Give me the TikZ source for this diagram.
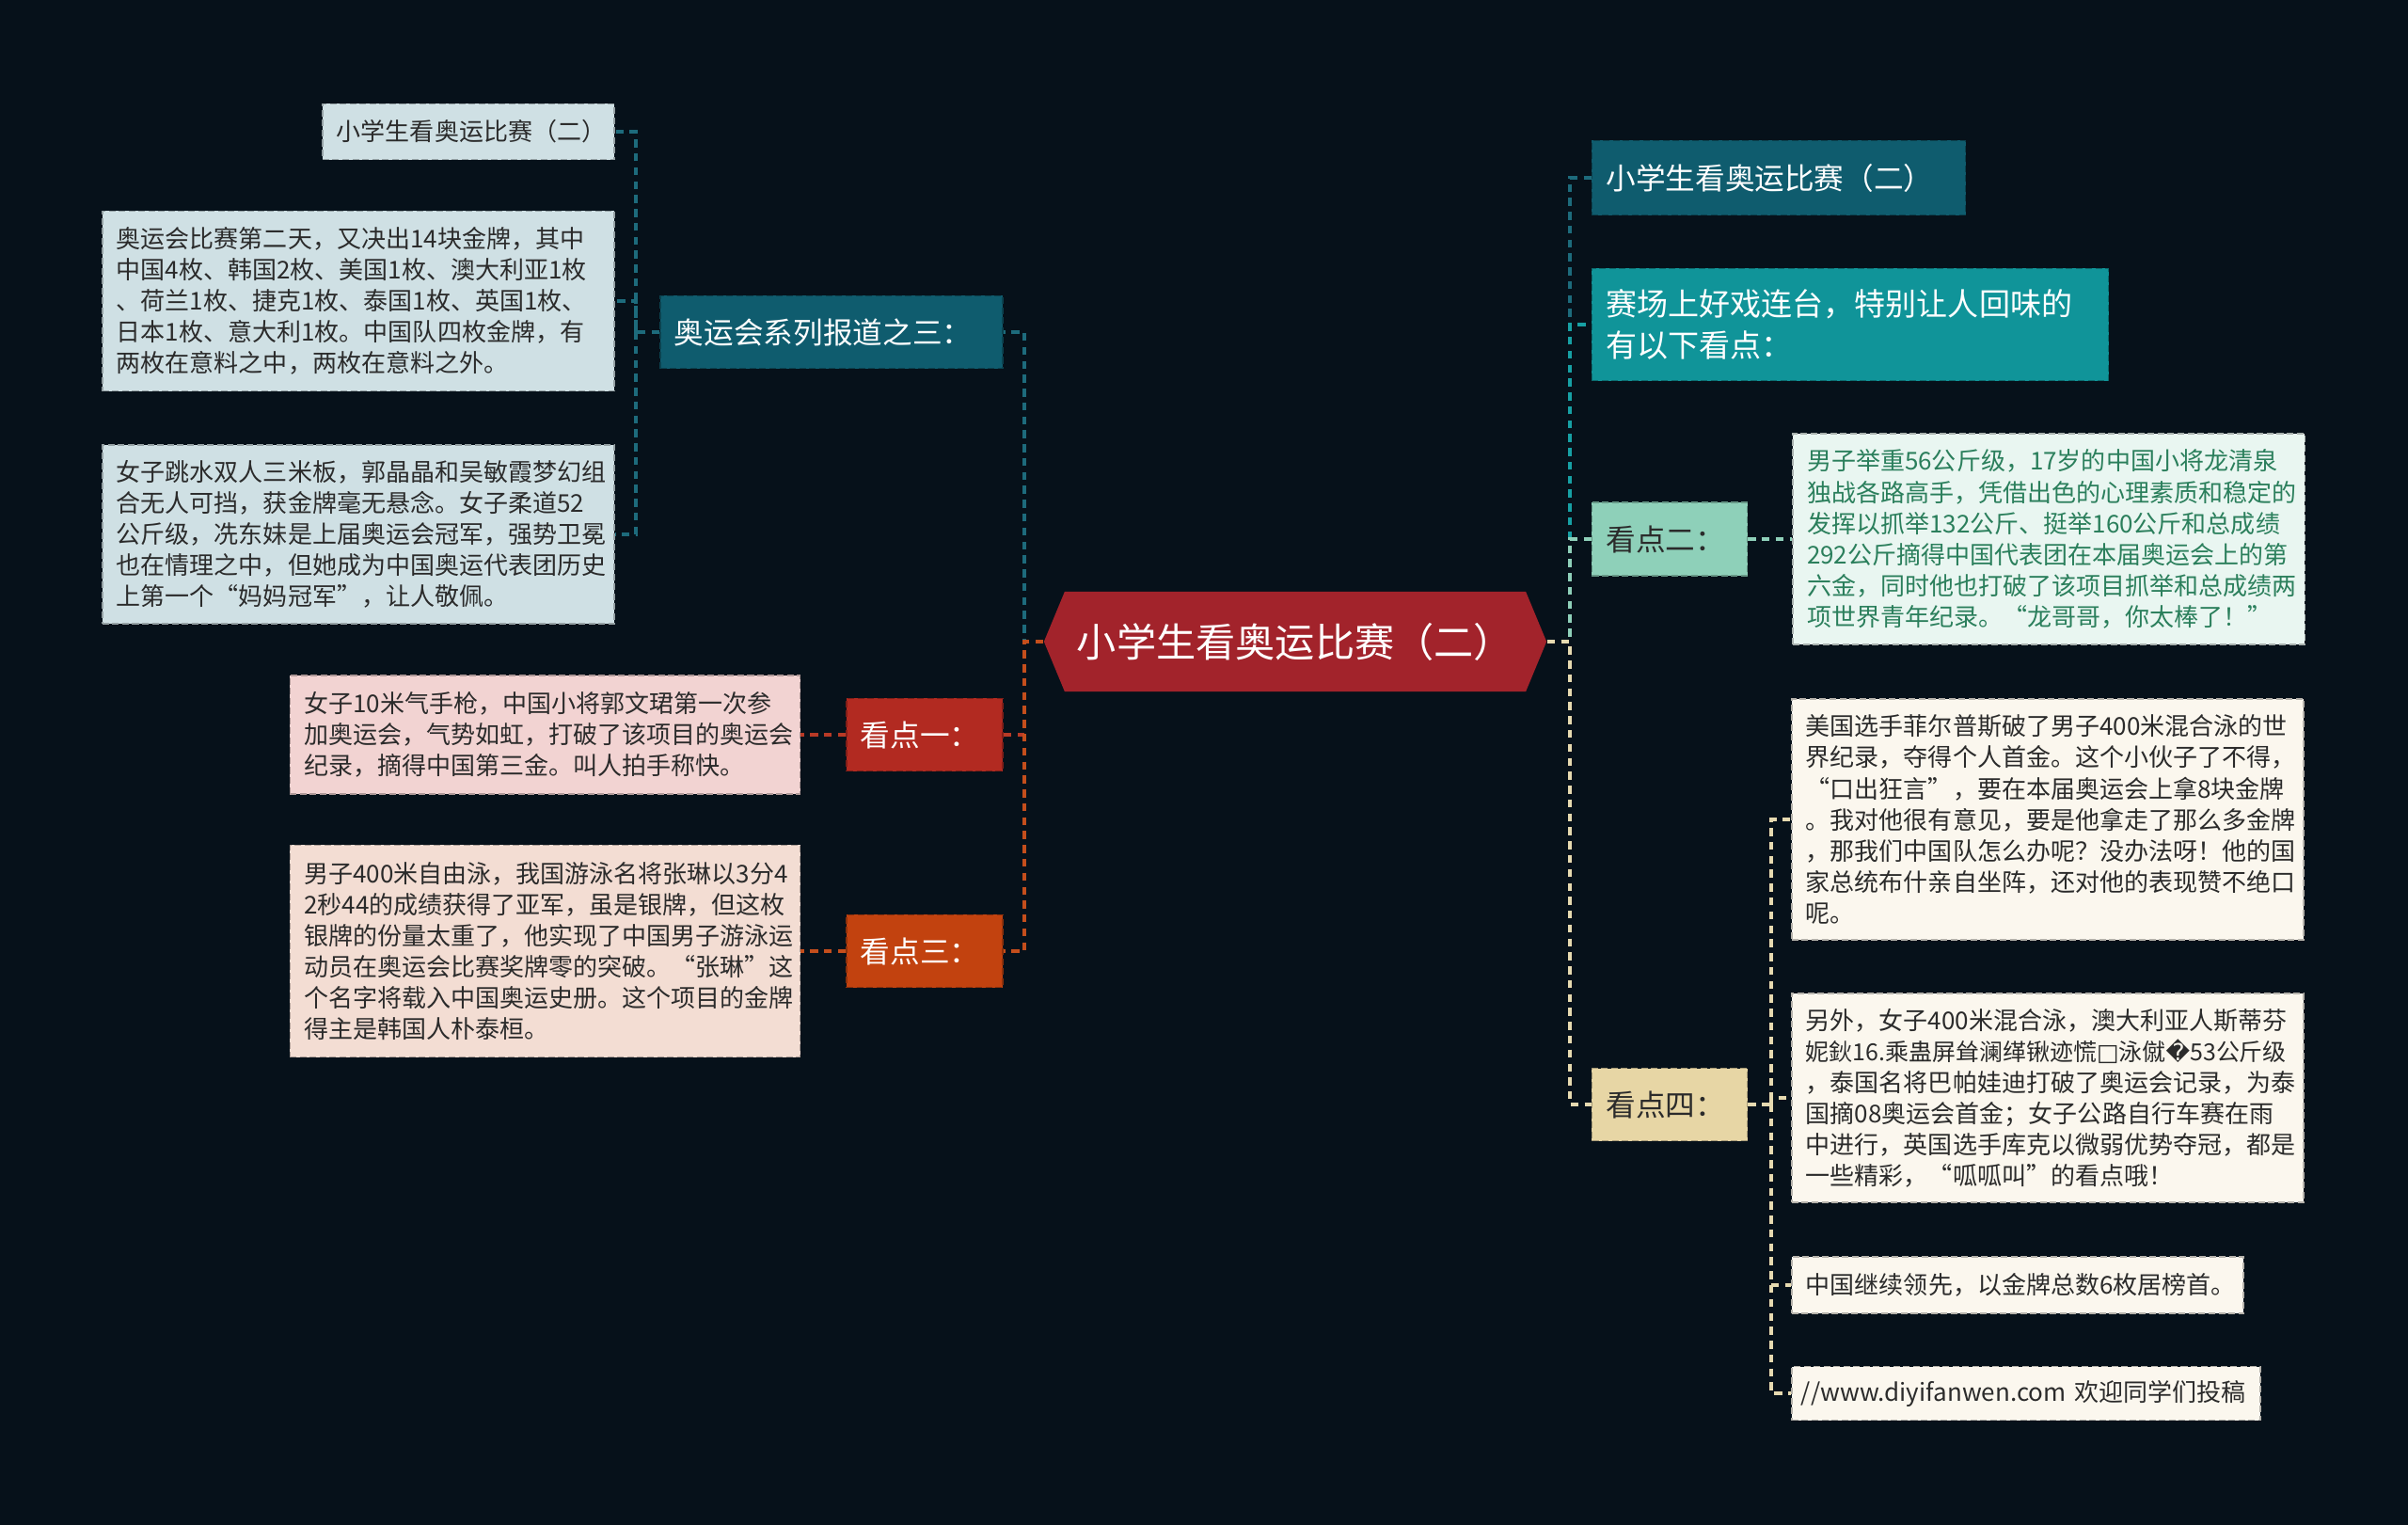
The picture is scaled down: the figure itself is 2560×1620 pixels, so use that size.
\documentclass[tikz,border=0pt]{standalone}
\usepackage{fontspec}
\setmainfont{Noto Sans CJK SC}
\newfontfamily\symfont{DejaVu Sans}
\usepackage{xcolor}
\usepackage{tikz}
\usetikzlibrary{positioning, calc}

\definecolor{bgdark}{HTML}{06111A}
\definecolor{tealdark}{HTML}{0F5C6E}
\definecolor{tealline}{HTML}{1D6B7C}
\definecolor{paleblue}{HTML}{CFE0E4}
\definecolor{redlabel}{HTML}{B22A21}
\definecolor{orangelabel}{HTML}{C2420F}
\definecolor{pinkbox}{HTML}{F2D3D2}
\definecolor{peachbox}{HTML}{F3DDD3}
\definecolor{redline}{HTML}{B83A26}
\definecolor{orangeline}{HTML}{C44E1C}
\definecolor{rootred}{HTML}{A2232B}
\definecolor{introteal}{HTML}{109499}
\definecolor{introline}{HTML}{17A0A4}
\definecolor{mint}{HTML}{8ED0B9}
\definecolor{mintbox}{HTML}{E9F6F1}
\definecolor{minttext}{HTML}{2B7F5C}
\definecolor{beige}{HTML}{E7D6A5}
\definecolor{cream}{HTML}{FBF7EE}
\definecolor{creamline}{HTML}{E6DAB0}
\definecolor{textdark}{HTML}{2B2B2B}

\begin{document}
\begin{tikzpicture}[x=0.01cm, y=-0.01cm,
    tbox/.style={rectangle, fill=#1, draw=#1!72!black, dash pattern=on 2pt off 1pt,
                 line width=0.4pt, inner xsep=0.15cm, inner ysep=0pt, align=left},
    small/.style={font=\fontsize{7.4}{9.4}\selectfont, text=textdark},
    mid/.style={font=\fontsize{9}{12.5}\selectfont},
    link/.style={dash pattern=on 2.4pt off 1.8pt, line width=0.9pt}]
    \useasboundingbox (0,0) rectangle (2560,1620);
    \fill[bgdark] (-5,-5) rectangle (2565,1625);

    % centre
    \node [minimum width=5.34cm, minimum height=1.06cm, inner sep=0pt, text=white,
           font=\fontsize{12}{14}\selectfont,
           path picture={\fill[rootred]
               (path picture bounding box.west)
               -- ($(path picture bounding box.north west)+(22,0)$)
               -- ($(path picture bounding box.north east)+(-22,0)$)
               -- (path picture bounding box.east)
               -- ($(path picture bounding box.south east)+(-22,0)$)
               -- ($(path picture bounding box.south west)+(22,0)$) -- cycle;}]
        (root) at (1377,682) {小学生看奥运比赛（二）};

    % left branch
    \node [tbox=tealdark, mid, text=white, text width=3.34cm, minimum height=0.77cm] (series) at (884,353) {奥运会系列报道之三：};
    \node [tbox=paleblue, small, text width=2.8cm, minimum height=0.59cm] (ltitle) at (498,140) {小学生看奥运比赛（二）};
    \node [tbox=paleblue, small, text width=5.14cm, minimum height=1.91cm] (lnews) at (381,320) {奥运会比赛第二天，又决出14块金牌，其中\\中国4枚、韩国2枚、美国1枚、澳大利亚1枚\\、荷兰1枚、捷克1枚、泰国1枚、英国1枚、\\日本1枚、意大利1枚。中国队四枚金牌，有\\两枚在意料之中，两枚在意料之外。};
    \node [tbox=paleblue, small, text width=5.14cm, minimum height=1.90cm] (ldive) at (381,568) {女子跳水双人三米板，郭晶晶和吴敏霞梦幻组\\合无人可挡，获金牌毫无悬念。女子柔道52\\公斤级，冼东妹是上届奥运会冠军，强势卫冕\\也在情理之中，但她成为中国奥运代表团历史\\上第一个“妈妈冠军”，让人敬佩。};

    \node [tbox=redlabel, mid, text=white, text width=1.36cm, minimum height=0.77cm] (pone) at (983,781) {看点一：};
    \node [tbox=pinkbox, small, text width=5.12cm, minimum height=1.26cm, left=0.48cm of pone] (ponetxt) {女子10米气手枪，中国小将郭文珺第一次参\\加奥运会，气势如虹，打破了该项目的奥运会\\纪录，摘得中国第三金。叫人拍手称快。};
    \node [tbox=orangelabel, mid, text=white, text width=1.36cm, minimum height=0.77cm] (pthree) at (983,1011) {看点三：};
    \node [tbox=peachbox, small, text width=5.12cm, minimum height=2.25cm, left=0.48cm of pthree] (pthreetxt) {男子400米自由泳，我国游泳名将张琳以3分4\\2秒44的成绩获得了亚军，虽是银牌，但这枚\\银牌的份量太重了，他实现了中国男子游泳运\\动员在奥运会比赛奖牌零的突破。“张琳”这\\个名字将载入中国奥运史册。这个项目的金牌\\得主是韩国人朴泰桓。};

    % right branch
    \node [tbox=tealdark, mid, text=white, text width=3.67cm, minimum height=0.79cm] (rtitle) at (1891,189) {小学生看奥运比赛（二）};
    \node [tbox=introteal, font=\fontsize{9.4}{12.5}\selectfont, text=white, text width=5.19cm, minimum height=1.19cm] (intro) at (1967,345) {赛场上好戏连台，特别让人回味的\\有以下看点：};
    \node [tbox=mint, mid, text=textdark, text width=1.35cm, minimum height=0.78cm] (ptwo) at (1775,573) {看点二：};
    \node [tbox=mintbox, small, text=minttext, text width=5.14cm, minimum height=2.24cm, right=0.47cm of ptwo] (ptwotxt) {男子举重56公斤级，17岁的中国小将龙清泉\\独战各路高手，凭借出色的心理素质和稳定的\\发挥以抓举132公斤、挺举160公斤和总成绩\\292公斤摘得中国代表团在本届奥运会上的第\\六金，同时他也打破了该项目抓举和总成绩两\\项世界青年纪录。“龙哥哥，你太棒了！”};
    \node [tbox=beige, mid, text=textdark, text width=1.35cm, minimum height=0.77cm] (pfour) at (1775,1174) {看点四：};
    \node [tbox=cream, small, text width=5.14cm, minimum height=2.56cm] (pfoura) at (2177,871) {美国选手菲尔普斯破了男子400米混合泳的世\\界纪录，夺得个人首金。这个小伙子了不得，\\“口出狂言”，要在本届奥运会上拿8块金牌\\。我对他很有意见，要是他拿走了那么多金牌\\，那我们中国队怎么办呢？没办法呀！他的国\\家总统布什亲自坐阵，还对他的表现赞不绝口\\呢。};
    \node [tbox=cream, small, text width=5.14cm, minimum height=2.22cm] (pfourb) at (2177,1167) {另外，女子400米混合泳，澳大利亚人斯蒂芬\\{\fontsize{7.1}{9.4}\selectfont 妮鈥16.乘蛊屏耸澜缂锹迹慌{\symfont □}泳僦{\symfont �}53公斤级}\\，泰国名将巴帕娃迪打破了奥运会记录，为泰\\国摘08奥运会首金；女子公路自行车赛在雨\\中进行，英国选手库克以微弱优势夺冠，都是\\一些精彩，“呱呱叫”的看点哦！};
    \node [tbox=cream, small, text width=4.5cm, minimum height=0.60cm] (pfourc) at (2145,1366) {中国继续领先，以金牌总数6枚居榜首。};
    \node [tbox=cream, small, inner xsep=0.1cm, text width=4.78cm, minimum height=0.57cm] (pfourd) at (2154,1481) {\mbox{//www.diyifanwen.com 欢迎同学们投稿}};

    \coordinate (ljoin) at (1089,682);
    \coordinate (sjoin) at (676,353);
    \coordinate (rjoin) at (1669,682);
    \coordinate (fjoin) at (1883,1174);

    \draw [link, tealline] (series.west) -- (sjoin) |- (ltitle.east);
    \draw [link, tealline] (sjoin) |- (lnews.east);
    \draw [link, tealline] (sjoin) |- (ldive.east);
    \draw [link, tealline] (root.west) -- (ljoin) |- (series.east);
    \draw [link, redline] (root.west) -- (ljoin) |- (pone.east);
    \draw [link, orangeline] (root.west) -- (ljoin) |- (pthree.east);
    \draw [link, redline] (pone) -- (ponetxt);
    \draw [link, orangeline] (pthree) -- (pthreetxt);

    \draw [link, tealline] (root.east) -- (rjoin) |- (rtitle.west);
    \draw [link, introline] (root.east) -- (rjoin) |- (intro.west);
    \draw [link, mint] (root.east) -- (rjoin) |- (ptwo.west);
    \draw [link, creamline] (root.east) -- (rjoin) |- (pfour.west);
    \draw [link, mint] (ptwo) -- (ptwotxt);
    \draw [link, creamline] (pfour.east) -- (fjoin) |- (pfoura.west);
    \draw [link, creamline] (fjoin) |- (pfourb.west);
    \draw [link, creamline] (fjoin) |- (pfourc.west);
    \draw [link, creamline] (fjoin) |- (pfourd.west);
\end{tikzpicture}
\end{document}
